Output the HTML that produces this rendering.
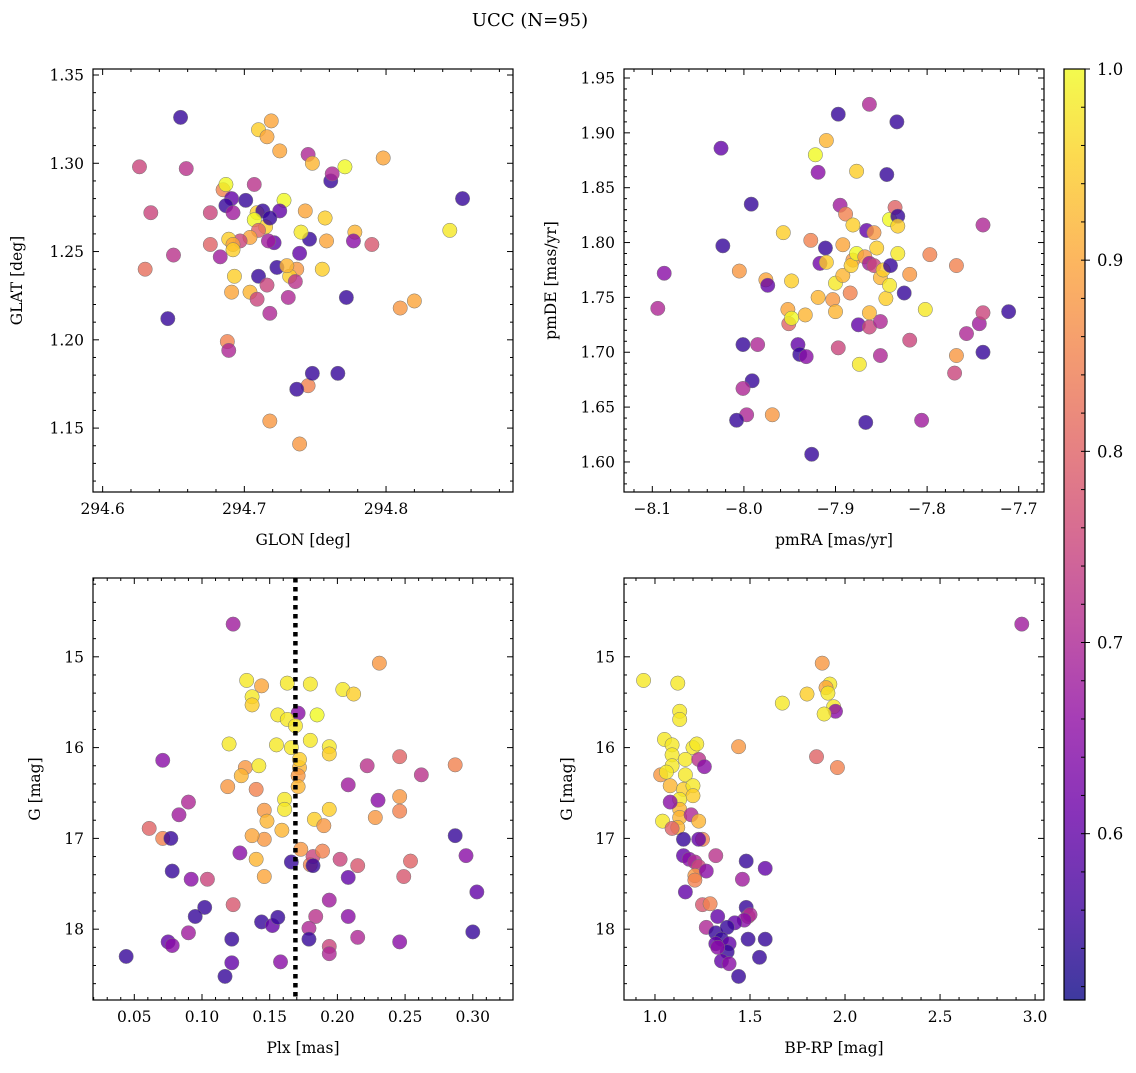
<!DOCTYPE html>
<html><head><meta charset="utf-8"><style>
html,body{margin:0;padding:0;background:#fff;}
svg text{font-family:"DejaVu Serif","Liberation Serif",serif;fill:#000;}
</style></head><body>
<svg id="fig" width="1136" height="1068" xmlns="http://www.w3.org/2000/svg">
<text x="530" y="26" font-size="18" text-anchor="middle">UCC (N=95)</text>
</svg>
<script>
// ---- data (each point: [x, y, membership probability]) ----
const glonGlat = [[294.655,1.326,0.55],[294.626,1.298,0.75],[294.634,1.272,0.75],[294.630,1.240,0.82],[294.650,1.248,0.72],[294.646,1.212,0.55],[294.659,1.297,0.72],[294.719,1.324,0.9],[294.710,1.319,0.95],[294.716,1.315,0.9],[294.725,1.307,0.9],[294.745,1.305,0.7],[294.748,1.300,0.92],[294.771,1.298,1.0],[294.798,1.303,0.9],[294.854,1.280,0.55],[294.845,1.262,0.98],[294.820,1.222,0.9],[294.810,1.218,0.88],[294.790,1.254,0.78],[294.778,1.261,0.92],[294.777,1.256,0.65],[294.772,1.224,0.55],[294.761,1.290,0.55],[294.762,1.294,0.7],[294.757,1.269,0.95],[294.758,1.256,0.9],[294.755,1.240,0.95],[294.746,1.257,0.55],[294.743,1.273,0.9],[294.740,1.261,0.98],[294.737,1.240,0.88],[294.732,1.236,0.95],[294.736,1.233,0.72],[294.728,1.279,1.0],[294.725,1.273,0.6],[294.715,1.264,0.95],[294.723,1.241,0.55],[294.730,1.242,0.92],[294.739,1.249,0.6],[294.721,1.255,0.6],[294.707,1.288,0.72],[294.701,1.279,0.55],[294.685,1.285,0.85],[294.687,1.288,1.0],[294.691,1.280,0.6],[294.687,1.276,0.55],[294.692,1.272,0.68],[294.709,1.272,0.95],[294.713,1.273,0.55],[294.718,1.269,0.55],[294.707,1.268,1.0],[294.710,1.262,0.8],[294.704,1.258,0.9],[294.717,1.256,0.68],[294.697,1.256,0.75],[294.689,1.257,0.95],[294.692,1.254,0.9],[294.676,1.272,0.75],[294.676,1.254,0.8],[294.683,1.247,0.68],[294.692,1.251,0.95],[294.693,1.236,0.95],[294.691,1.227,0.9],[294.704,1.227,0.92],[294.710,1.236,0.55],[294.716,1.231,0.75],[294.709,1.223,0.75],[294.718,1.215,0.7],[294.731,1.224,0.7],[294.688,1.199,0.85],[294.689,1.194,0.7],[294.745,1.174,0.85],[294.748,1.181,0.55],[294.737,1.172,0.55],[294.766,1.181,0.55],[294.718,1.154,0.88],[294.739,1.141,0.88]];
const pmraPmde = [[-8.094,1.740,0.7],[-8.087,1.772,0.65],[-8.025,1.886,0.6],[-8.023,1.797,0.55],[-7.992,1.835,0.55],[-8.005,1.774,0.88],[-8.001,1.707,0.55],[-7.985,1.707,0.7],[-7.991,1.674,0.55],[-8.001,1.667,0.7],[-7.997,1.643,0.7],[-8.008,1.638,0.55],[-7.969,1.643,0.88],[-7.976,1.766,0.9],[-7.974,1.761,0.6],[-7.957,1.809,0.95],[-7.948,1.765,0.95],[-7.952,1.739,0.9],[-7.951,1.726,0.8],[-7.948,1.731,1.0],[-7.933,1.734,0.92],[-7.941,1.707,0.6],[-7.939,1.698,0.55],[-7.932,1.696,0.65],[-7.926,1.607,0.55],[-7.927,1.802,0.85],[-7.922,1.880,1.0],[-7.919,1.864,0.65],[-7.910,1.893,0.92],[-7.897,1.917,0.55],[-7.911,1.795,0.55],[-7.917,1.781,0.62],[-7.910,1.782,0.95],[-7.919,1.750,0.92],[-7.900,1.763,0.98],[-7.903,1.748,0.88],[-7.900,1.737,0.92],[-7.895,1.834,0.68],[-7.889,1.826,0.85],[-7.892,1.798,0.9],[-7.892,1.770,0.92],[-7.897,1.704,0.75],[-7.881,1.816,0.95],[-7.877,1.865,0.95],[-7.881,1.784,0.88],[-7.883,1.779,0.95],[-7.884,1.754,0.85],[-7.877,1.790,1.0],[-7.868,1.787,0.88],[-7.866,1.811,0.6],[-7.858,1.809,0.88],[-7.863,1.781,0.68],[-7.858,1.779,0.75],[-7.855,1.795,0.95],[-7.875,1.725,0.6],[-7.863,1.723,0.75],[-7.851,1.728,0.7],[-7.863,1.736,0.92],[-7.874,1.689,0.98],[-7.867,1.636,0.55],[-7.851,1.768,0.92],[-7.851,1.697,0.7],[-7.845,1.749,0.95],[-7.863,1.926,0.7],[-7.844,1.862,0.55],[-7.833,1.910,0.55],[-7.848,1.775,0.95],[-7.840,1.779,0.55],[-7.841,1.761,0.98],[-7.841,1.821,1.0],[-7.835,1.832,0.8],[-7.832,1.824,0.55],[-7.832,1.815,0.95],[-7.832,1.790,0.98],[-7.825,1.754,0.55],[-7.819,1.771,0.88],[-7.819,1.711,0.75],[-7.802,1.739,0.98],[-7.797,1.789,0.85],[-7.806,1.638,0.68],[-7.768,1.779,0.85],[-7.768,1.697,0.88],[-7.770,1.681,0.75],[-7.757,1.717,0.7],[-7.743,1.726,0.68],[-7.739,1.736,0.75],[-7.739,1.816,0.7],[-7.739,1.700,0.55],[-7.711,1.737,0.55]];
const plxG = [[0.123,14.64,0.68],[0.231,15.07,0.88],[0.133,15.26,0.98],[0.144,15.32,0.9],[0.137,15.44,0.98],[0.137,15.53,0.95],[0.163,15.29,0.98],[0.180,15.30,0.98],[0.204,15.36,0.98],[0.212,15.41,0.95],[0.171,15.62,0.65],[0.156,15.64,0.98],[0.163,15.69,0.98],[0.169,15.76,0.98],[0.185,15.64,1.0],[0.120,15.96,0.98],[0.155,15.97,0.98],[0.166,16.00,0.98],[0.180,15.92,0.98],[0.194,15.99,0.98],[0.194,16.07,0.95],[0.132,16.22,0.88],[0.142,16.20,0.98],[0.129,16.31,0.92],[0.172,16.22,0.92],[0.172,16.13,0.95],[0.171,16.31,0.88],[0.171,16.43,0.92],[0.119,16.43,0.88],[0.140,16.46,0.85],[0.071,16.14,0.65],[0.090,16.60,0.7],[0.083,16.74,0.68],[0.061,16.89,0.8],[0.071,17.00,0.85],[0.077,17.00,0.55],[0.161,16.57,0.98],[0.161,16.68,0.98],[0.146,16.69,0.88],[0.148,16.81,0.92],[0.146,17.01,0.88],[0.137,16.97,0.9],[0.159,16.91,0.92],[0.183,16.79,0.95],[0.190,16.86,0.88],[0.194,16.68,0.95],[0.208,16.41,0.68],[0.222,16.20,0.72],[0.246,16.10,0.8],[0.262,16.30,0.72],[0.287,16.19,0.85],[0.230,16.58,0.65],[0.246,16.54,0.88],[0.228,16.77,0.88],[0.246,16.70,0.85],[0.287,16.97,0.55],[0.295,17.19,0.65],[0.303,17.59,0.6],[0.300,18.03,0.55],[0.254,17.25,0.8],[0.249,17.42,0.78],[0.246,18.14,0.65],[0.128,17.16,0.65],[0.140,17.23,0.92],[0.146,17.42,0.9],[0.166,17.26,0.55],[0.173,17.12,0.88],[0.180,17.29,0.85],[0.182,17.20,0.75],[0.189,17.14,0.85],[0.182,17.30,0.55],[0.202,17.23,0.75],[0.208,17.43,0.6],[0.215,17.30,0.78],[0.078,17.36,0.55],[0.092,17.45,0.65],[0.104,17.45,0.75],[0.123,17.73,0.78],[0.102,17.76,0.55],[0.095,17.86,0.55],[0.090,18.04,0.68],[0.075,18.14,0.6],[0.078,18.18,0.65],[0.122,18.11,0.55],[0.044,18.30,0.55],[0.144,17.92,0.55],[0.152,17.96,0.6],[0.156,17.87,0.55],[0.184,17.86,0.72],[0.194,17.68,0.68],[0.208,17.86,0.65],[0.179,17.99,0.7],[0.179,18.11,0.55],[0.194,18.19,0.75],[0.194,18.27,0.7],[0.215,18.09,0.7],[0.158,18.36,0.65],[0.122,18.37,0.6],[0.117,18.52,0.55]];
const plxLine = [0.169];
const bprpG = [[2.93,14.64,0.68],[0.94,15.26,0.98],[1.12,15.29,0.98],[1.88,15.07,0.88],[1.67,15.51,0.98],[1.80,15.41,0.95],[1.92,15.30,0.98],[1.90,15.34,0.9],[1.91,15.40,0.98],[1.94,15.55,0.98],[1.95,15.60,0.65],[1.89,15.63,0.98],[1.13,15.60,0.98],[1.13,15.69,0.98],[1.05,15.91,0.98],[1.09,15.97,0.98],[1.20,16.00,0.98],[1.22,15.96,0.98],[1.44,15.99,0.88],[1.96,16.22,0.85],[1.85,16.10,0.8],[1.09,16.08,0.98],[1.09,16.20,0.98],[1.16,16.13,0.98],[1.23,16.13,0.72],[1.26,16.21,0.65],[1.03,16.30,0.88],[1.06,16.27,0.98],[1.16,16.30,0.98],[1.08,16.42,0.92],[1.15,16.46,0.95],[1.20,16.42,0.98],[1.20,16.53,0.95],[1.13,16.57,0.98],[1.13,16.68,0.92],[1.08,16.60,0.65],[1.13,16.77,0.92],[1.04,16.81,0.98],[1.12,16.88,0.92],[1.09,16.89,0.8],[1.19,16.74,0.7],[1.23,16.81,0.92],[1.25,17.01,0.85],[1.15,17.01,0.55],[1.23,17.01,0.6],[1.15,17.19,0.6],[1.18,17.23,0.65],[1.21,17.26,0.7],[1.32,17.19,0.72],[1.23,17.31,0.75],[1.21,17.41,0.88],[1.27,17.36,0.65],[1.21,17.46,0.85],[1.48,17.25,0.55],[1.58,17.33,0.6],[1.46,17.45,0.68],[1.16,17.59,0.6],[1.25,17.73,0.78],[1.29,17.72,0.85],[1.48,17.76,0.55],[1.33,17.86,0.6],[1.49,17.86,0.75],[1.50,17.84,0.7],[1.47,17.90,0.65],[1.42,17.93,0.6],[1.27,17.98,0.7],[1.32,18.04,0.55],[1.38,17.98,0.55],[1.35,18.11,0.55],[1.32,18.16,0.6],[1.39,18.16,0.6],[1.49,18.11,0.55],[1.58,18.11,0.55],[1.38,18.25,0.55],[1.55,18.31,0.55],[1.35,18.35,0.6],[1.39,18.38,0.65],[1.44,18.52,0.55],[1.33,18.20,0.65]];
const cbarTicks = [0.6,0.7,0.8,0.9,1.0];
const cbarRange = [0.513,1.0];

const NS="http://www.w3.org/2000/svg";
const svg=document.getElementById('fig');
function mk(tag,attrs,parent){const e=document.createElementNS(NS,tag);for(const k in attrs)e.setAttribute(k,attrs[k]);(parent||svg).appendChild(e);return e;}
const stops=[[13,8,135],[65,4,157],[106,0,168],[143,13,164],[177,42,144],[204,71,120],[225,100,98],[242,132,75],[252,166,54],[252,206,37],[240,249,33]];
function plasma(t){t=Math.max(0,Math.min(1,t));const f=t*10,i=Math.min(9,Math.floor(f)),r=f-i;const a=stops[i],b=stops[i+1];return 'rgb('+[0,1,2].map(k=>Math.round(a[k]+(b[k]-a[k])*r)).join(',')+')';}
function pcol(p){return plasma((p-cbarRange[0])/(cbarRange[1]-cbarRange[0]));}
function fmt(v,d){return v.toFixed(d).replace('-','\u2212');}

function panel(o){
  const g=mk('g',{});
  
  
  const sx=v=>o.x0+(v-o.xlim[0])/(o.xlim[1]-o.xlim[0])*(o.x1-o.x0);
  const sy=v=>o.inv? o.y0+(v-o.ylim[0])/(o.ylim[1]-o.ylim[0])*(o.y1-o.y0) : o.y1-(v-o.ylim[0])/(o.ylim[1]-o.ylim[0])*(o.y1-o.y0);
  const pts=mk('g',{},g);
  
  
  o.data.forEach(d=>{const c=mk('circle',{cx:sx(d[0]),cy:sy(d[1]),r:7.2,fill:pcol(d[2]),'fill-opacity':0.8,stroke:'#777','stroke-width':0.5},pts);
    
    });
  if(o.vline!==undefined){const l=mk('line',{x1:sx(o.vline),x2:sx(o.vline),y1:o.y0,y2:o.y1,stroke:'#000','stroke-width':4.5,'stroke-dasharray':'4.5 4.5'},g);
    
    }
  const frame=mk('rect',{x:o.x0,y:o.y0,width:o.x1-o.x0,height:o.y1-o.y0,fill:'none',stroke:'#000','stroke-width':1.2},g);
  
  
  const ax=mk('g',{stroke:'#000','stroke-width':1},g);
  const eps=1e-9;
  for(let v=Math.ceil(o.xlim[0]/o.xmin-eps)*o.xmin; v<=o.xlim[1]+eps; v+=o.xmin){
    const major=Math.abs(v/o.xmaj-Math.round(v/o.xmaj))<1e-6;const L=major?6:3;const X=sx(v);
    mk('line',{x1:X,x2:X,y1:o.y1,y2:o.y1-L},ax);mk('line',{x1:X,x2:X,y1:o.y0,y2:o.y0+L},ax);
    if(major){const t=mk('text',{x:X,y:o.y1+22,'font-size':15.5,'text-anchor':'middle'},g);t.textContent=fmt(v,o.xdec);
      
      }
  }
  for(let v=Math.ceil(o.ylim[0]/o.ymin-eps)*o.ymin; v<=o.ylim[1]+eps; v+=o.ymin){
    const major=Math.abs(v/o.ymaj-Math.round(v/o.ymaj))<1e-6;const L=major?6:3;const Y=sy(v);
    mk('line',{x1:o.x0,x2:o.x0+L,y1:Y,y2:Y},ax);mk('line',{x1:o.x1,x2:o.x1-L,y1:Y,y2:Y},ax);
    if(major){const t=mk('text',{x:o.x0-9,y:Y+5.5,'font-size':15.5,'text-anchor':'end'},g);t.textContent=fmt(v,o.ydec);
      
      }
  }
  const xl=mk('text',{x:(o.x0+o.x1)/2,y:o.y1+53,'font-size':15.5,'text-anchor':'middle'},g);xl.textContent=o.xlabel;
  
  
  const yx=o.ylx, yy=(o.y0+o.y1)/2;
  const yl=mk('text',{x:yx,y:yy,'font-size':15.5,'text-anchor':'middle',transform:'rotate(-90 '+yx+' '+yy+')'},g);yl.textContent=o.ylabel;
  
  
}
panel({name:'glon-glat-panel',data:glonGlat,x0:93,x1:513,y0:69,y1:492,xlim:[294.5932,294.8896],ylim:[1.1138,1.3534],xmaj:0.1,xmin:0.02,ymaj:0.05,ymin:0.01,xdec:1,ydec:2,xlabel:'GLON [deg]',ylabel:'GLAT [deg]',ylx:22});
panel({name:'pm-panel',data:pmraPmde,x0:624,x1:1044,y0:69,y1:492,xlim:[-8.1309,-7.6724],ylim:[1.5726,1.9582],xmaj:0.1,xmin:0.02,ymaj:0.05,ymin:0.01,xdec:1,ydec:2,xlabel:'pmRA [mas/yr]',ylabel:'pmDE [mas/yr]',ylx:556});
panel({name:'plx-g-panel',data:plxG,vline:plxLine[0],x0:93,x1:513,y0:578,y1:1000,xlim:[0.0195,0.3297],ylim:[14.132,18.78],inv:true,xmaj:0.05,xmin:0.01,ymaj:1,ymin:0.2,xdec:2,ydec:0,xlabel:'Plx [mas]',ylabel:'G [mag]',ylx:40});
panel({name:'cmd-panel',data:bprpG,x0:624,x1:1044,y0:578,y1:1000,xlim:[0.837,3.047],ylim:[14.132,18.78],inv:true,xmaj:0.5,xmin:0.1,ymaj:1,ymin:0.2,xdec:1,ydec:0,xlabel:'BP-RP [mag]',ylabel:'G [mag]',ylx:572});

// colorbar
const cb=mk('g',{});


const defs=mk('defs',{},svg);const lg=mk('linearGradient',{id:'pl',x1:0,y1:1,x2:0,y2:0},defs);
for(let i=0;i<=10;i++)mk('stop',{offset:i/10,'stop-color':plasma(i/10)},lg);
const cx0=1064,cx1=1085,cy0=69,cy1=1000;
mk('rect',{x:cx0,y:cy0,width:cx1-cx0,height:cy1-cy0,fill:'url(#pl)','fill-opacity':0.8},cb);
mk('rect',{x:cx0,y:cy0,width:cx1-cx0,height:cy1-cy0,fill:'none',stroke:'#000','stroke-width':1.2},cb);
const cys=v=>cy1-(v-cbarRange[0])/(cbarRange[1]-cbarRange[0])*(cy1-cy0);
for(let v=0.52;v<=1.0001;v+=0.02){mk('line',{x1:cx1,x2:cx1-4,y1:cys(v),y2:cys(v),stroke:'#000','stroke-width':1},cb);}
cbarTicks.forEach(v=>{const Y=cys(v);mk('line',{x1:cx1,x2:cx1+5,y1:Y,y2:Y,stroke:'#000','stroke-width':1},cb);
  const t=mk('text',{x:cx1+12,y:Y+6,'font-size':16.5},cb);t.textContent=v.toFixed(1);
  
  });
</script>
</body></html>
